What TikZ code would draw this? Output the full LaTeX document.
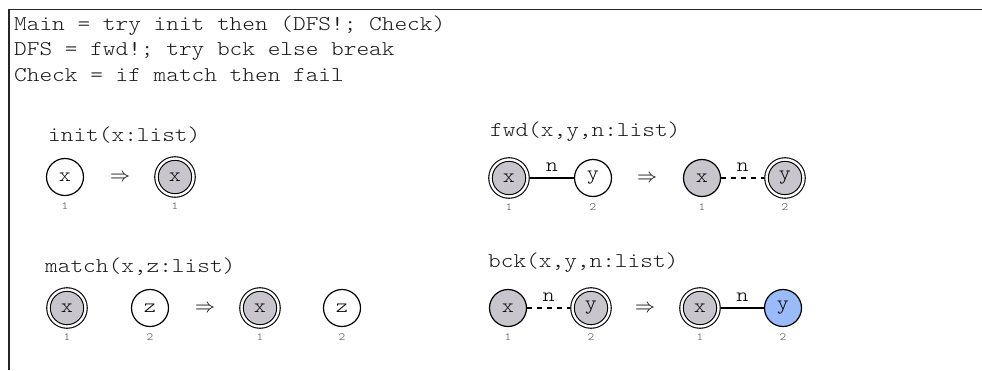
\documentclass[tikz,border=0pt]{standalone}
\usepackage{fontspec}
\setmonofont{lmmonolt10-regular.otf}[FakeStretch=1.15]
\definecolor{nodegray}{RGB}{200,198,204}
\definecolor{nodeblue}{RGB}{153,187,250}
\begin{document}
\begin{tikzpicture}[x=1pt,y=-1pt,
  code/.style={font=\ttfamily\fontsize{21}{25}\selectfont, anchor=base west, inner sep=0pt, text=black!90},
  vert/.style={circle, draw, line width=1.2pt, minimum size=37pt, inner sep=0pt, font=\ttfamily\fontsize{20}{20}\selectfont},
  root/.style={vert, double, double distance=2.4pt, line width=1.1pt, outer sep=2.4pt},
  grayfill/.style={fill=nodegray},
  bluefill/.style={fill=nodeblue},
  idx/.style={font=\ttfamily\fontsize{11}{11}\selectfont, inner sep=0pt, text=black!70},
  impl/.style={inner sep=0pt},
  edgelbl/.style={midway, yshift=11pt, inner sep=0pt, font=\ttfamily\fontsize{20}{20}\selectfont},
  link/.style={line width=1.2pt},
  trail/.style={line width=1.2pt, dash pattern=on 5pt off 5pt},
  frameline/.style={line width=1.4pt, draw=black!85}
]
\useasboundingbox (0,0) rectangle (982,370);
\coordinate (fb) at (9,370);
\coordinate (fc) at (9,9.5);
\coordinate (fr) at (982,9.5);
\draw[frameline] (fb) -- (fc) -- (fr);

\node[code] (l1) at (14,30) {Main = try init then (DFS!; Check)};
\node[code] (l2) at (14,55.5) {DFS = fwd!; try bck else break};
\node[code] (l3) at (14,81) {Check = if match then fail};

\node[code] (tinit) at (48,141) {init(x:list)};
\node[code] (tfwd) at (490,136) {fwd(x,y,n:list)};
\node[code] (tmatch) at (45,272) {match(x,z:list)};
\node[code] (tbck) at (488,267) {bck(x,y,n:list)};

% init
\node[vert] (a) at (65,177) {x};
\node[impl] (ia) at (120,177.5) {\scalebox{2}{$\Rightarrow$}};
\node[root,grayfill] (b) at (175,177) {x};
\node[idx] (a1) at (65,206) {1};
\node[idx] (b1) at (175,206) {1};

% fwd
\node[root,grayfill] (c) at (509,178) {x};
\node[vert] (d) at (593,178) {y};
\node[impl] (ib) at (647,178.5) {\scalebox{2}{$\Rightarrow$}};
\node[vert,grayfill] (e) at (702,178) {x};
\node[root,grayfill] (f) at (785,178) {y};
\node[idx] (c1) at (509,207) {1};
\node[idx] (d1) at (593,207) {2};
\node[idx] (e1) at (702,207) {1};
\node[idx] (f1) at (785,207) {2};
\draw[link] (c) -- node[edgelbl] {n} (d);
\draw[trail] (e) -- node[edgelbl] {n} (f);

% match
\node[root,grayfill] (g) at (67,308) {x};
\node[vert] (h) at (150,308) {z};
\node[impl] (ic) at (205,308.5) {\scalebox{2}{$\Rightarrow$}};
\node[root,grayfill] (i) at (260,308) {x};
\node[vert] (j) at (342,308) {z};
\node[idx] (g1) at (67,337) {1};
\node[idx] (h1) at (150,337) {2};
\node[idx] (i1) at (260,337) {1};
\node[idx] (j1) at (342,337) {2};

% bck
\node[vert,grayfill] (k) at (508,308) {x};
\node[root,grayfill] (l) at (591,308) {y};
\node[impl] (id) at (645,308.5) {\scalebox{2}{$\Rightarrow$}};
\node[root,grayfill] (m) at (700,308) {x};
\node[vert,bluefill] (o) at (783,308) {y};
\node[idx] (k1) at (508,337) {1};
\node[idx] (l1b) at (591,337) {2};
\node[idx] (m1) at (700,337) {1};
\node[idx] (o1) at (783,337) {2};
\draw[trail] (k) -- node[edgelbl] {n} (l);
\draw[link] (m) -- node[edgelbl] {n} (o);
\end{tikzpicture}
\end{document}
